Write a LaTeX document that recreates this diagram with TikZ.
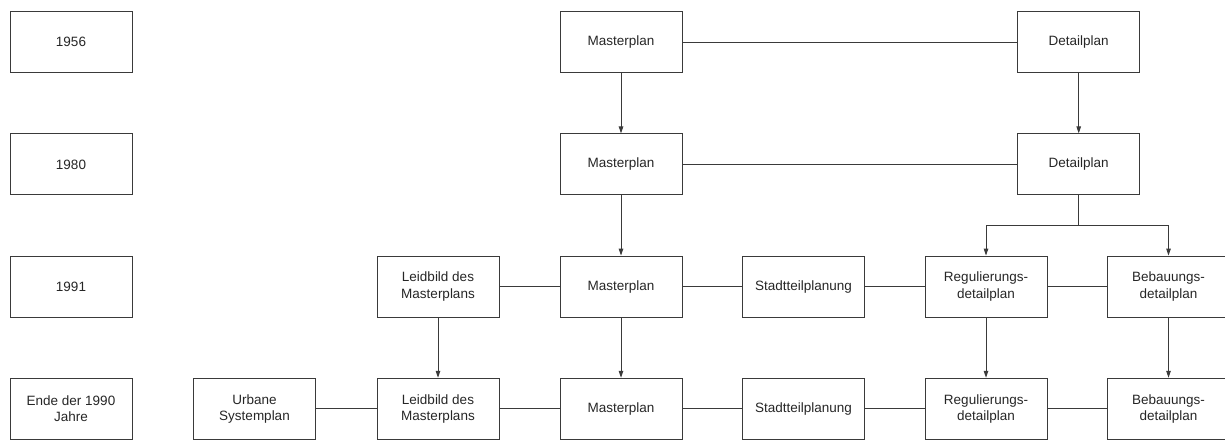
\documentclass[tikz,border=0pt]{standalone}
\usepackage{fontspec}
\setmainfont{Liberation Sans}
\usetikzlibrary{arrows.meta}
\definecolor{edge}{HTML}{3A3A3A}
\tikzset{
  box/.style={draw=edge, line width=1pt, minimum width=122pt, minimum height=61pt,
    inner sep=0pt, align=center, font=\fontsize{13.5pt}{16.5pt}\selectfont, text=black!85},
  link/.style={draw=edge, line width=1pt},
  arr/.style={link, -{Triangle[length=7pt,width=4.5pt]}}
}
\begin{document}
\begin{tikzpicture}[x=1pt,y=-1pt]
\useasboundingbox (0,0) rectangle (1225,439);
\clip (0,0) rectangle (1225,439);
% columns
\def\cY{71}\def\cU{254.5}\def\cL{438}\def\cM{621}\def\cS{803.5}\def\cR{986}\def\cB{1168.5}\def\cD{1078.7}
\def\rA{42}\def\rB{164.4}\def\rC{286.6}\def\rD{408.8}
% year boxes
\node[box] (y1) at (\cY,\rA) {1956};
\node[box] (y2) at (\cY,\rB) {1980};
\node[box] (y3) at (\cY,\rC) {1991};
\node[box] (y4) at (\cY,\rD) {Ende der 1990\\Jahre};
% row 1
\node[box] (m1) at (\cM,\rA) {Masterplan};
\node[box] (d1) at (\cD,\rA) {Detailplan};
% row 2
\node[box] (m2) at (\cM,\rB) {Masterplan};
\node[box] (d2) at (\cD,\rB) {Detailplan};
% row 3
\node[box] (l3) at (\cL,\rC) {Leidbild des\\Masterplans};
\node[box] (m3) at (\cM,\rC) {Masterplan};
\node[box] (s3) at (\cS,\rC) {Stadtteilplanung};
\node[box] (r3) at (\cR,\rC) {Regulierungs-\\detailplan};
\node[box] (b3) at (\cB,\rC) {Bebauungs-\\detailplan};
% row 4
\node[box] (u4) at (\cU,\rD) {Urbane\\Systemplan};
\node[box] (l4) at (\cL,\rD) {Leidbild des\\Masterplans};
\node[box] (m4) at (\cM,\rD) {Masterplan};
\node[box] (s4) at (\cS,\rD) {Stadtteilplanung};
\node[box] (r4) at (\cR,\rD) {Regulierungs-\\detailplan};
\node[box] (b4) at (\cB,\rD) {Bebauungs-\\detailplan};
% horizontal links
\draw[link] (m1) -- (d1);
\draw[link] (m2) -- (d2);
\draw[link] (l3) -- (m3);
\draw[link] (m3) -- (s3);
\draw[link] (s3) -- (r3);
\draw[link] (r3) -- (b3);
\draw[link] (u4) -- (l4);
\draw[link] (l4) -- (m4);
\draw[link] (m4) -- (s4);
\draw[link] (s4) -- (r4);
\draw[link] (r4) -- (b4);
% vertical arrows
\draw[arr] (m1) -- (m2);
\draw[arr] (d1) -- (d2);
\draw[arr] (m2) -- (m3);
\draw[arr] (l3) -- (l4);
\draw[arr] (m3) -- (m4);
\draw[arr] (r3) -- (r4);
\draw[arr] (b3) -- (b4);
% fork
\coordinate (fork) at (\cD,225);
\draw[link] (d2.south) -- (fork);
\draw[arr] (fork) -| (r3.north);
\draw[arr] (fork) -| (b3.north);
\end{tikzpicture}
\end{document}
